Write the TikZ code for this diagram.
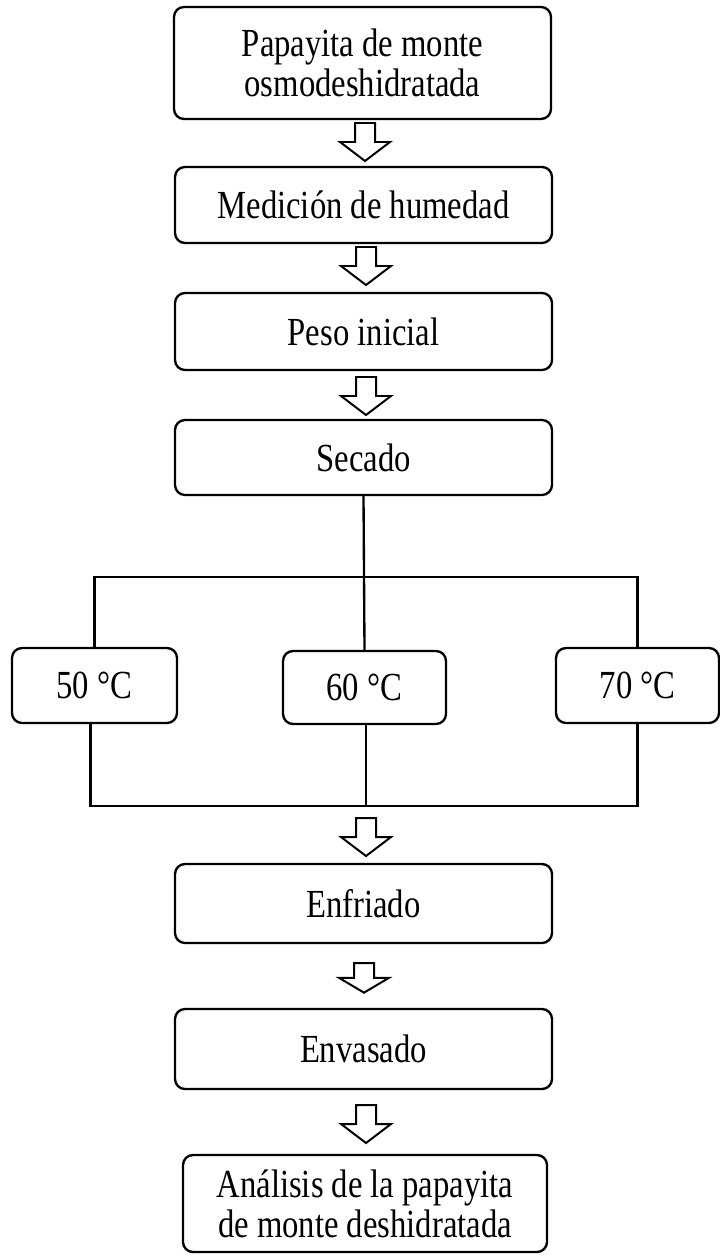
\documentclass[tikz,border=0pt]{standalone}
\usepackage{fontspec}
\setmainfont{Liberation Serif}[FakeStretch=0.82]
\usepackage{tikz}
\usetikzlibrary{arrows.meta}
\tikzset{
  stage/.style={draw, line width=2pt, rounded corners=0.3cm, align=center,
    inner sep=0pt, font=\fontsize{34}{34}\selectfont},
  link/.style={line width=2pt},
  down arrow/.pic={
    \draw [line width=1.7pt, fill=white, line join=miter, pic actions]
    (-0.3,0) -- (0.3,0) -- (0.3,-0.57) -- (0.75,-0.57) -- (0,-1.14)
    -- (-0.75,-0.57) -- (-0.3,-0.57) -- cycle;
  },
}

\begin{document}
\begin{tikzpicture}
\useasboundingbox (0,0) rectangle (21.6,-37.71);

% main column
\node [stage, minimum width=11.31cm, minimum height=3.36cm] (papayita) at (10.875,-1.89) {Papayita de monte\\osmodeshidratada};
\node [stage, minimum width=11.31cm, minimum height=2.28cm] (medicion) at (10.905,-6.15) {Medición de humedad};
\node [stage, minimum width=11.31cm, minimum height=2.31cm] (peso) at (10.905,-9.945) {Peso inicial};
\node [stage, minimum width=11.31cm, minimum height=2.25cm] (secado) at (10.905,-13.725) {Secado};

% temperatures
\node [stage, minimum width=4.95cm, minimum height=2.25cm] (t50) at (2.835,-20.565) {50 °C};
\node [stage, minimum width=4.89cm, minimum height=2.19cm] (t60) at (10.935,-20.625) {60 °C};
\node [stage, minimum width=4.89cm, minimum height=2.25cm] (t70) at (19.125,-20.565) {70 °C};

\node [stage, minimum width=11.31cm, minimum height=2.37cm] (enfriado) at (10.905,-27.105) {Enfriado};
\node [stage, minimum width=11.31cm, minimum height=2.4cm] (envasado) at (10.905,-31.47) {Envasado};
\node [stage, minimum width=10.92cm, minimum height=2.91cm] (analisis) at (10.95,-36.105) {Análisis de la papayita\\de monte deshidratada};

\coordinate (bus) at (0,-17.31);
\coordinate (join) at (0,-24.18);

\draw [link] (secado.south) -- (t60.north);
\draw [link] (t50.north) -- (t50.north |- bus) -- (t70.north |- bus) -- (t70.north);
\draw [link] ([xshift=-0.12cm]t50.south) -- ([xshift=-0.12cm]t50.south |- join) -- (t70.south |- join) -- (t70.south);
\draw [link] ([xshift=0.05cm]t60.south) -- ([xshift=0.05cm]t60.south |- join);

\pic at (10.95,-3.69) {down arrow};
\pic at (10.98,-7.41) {down arrow};
\pic at (10.98,-11.31) {down arrow};
\pic at (10.98,-24.54) {down arrow};
\pic [yscale=0.78] at (10.92,-28.89) {down arrow};
\pic at (10.98,-33.15) {down arrow};
\end{tikzpicture}
\end{document}
